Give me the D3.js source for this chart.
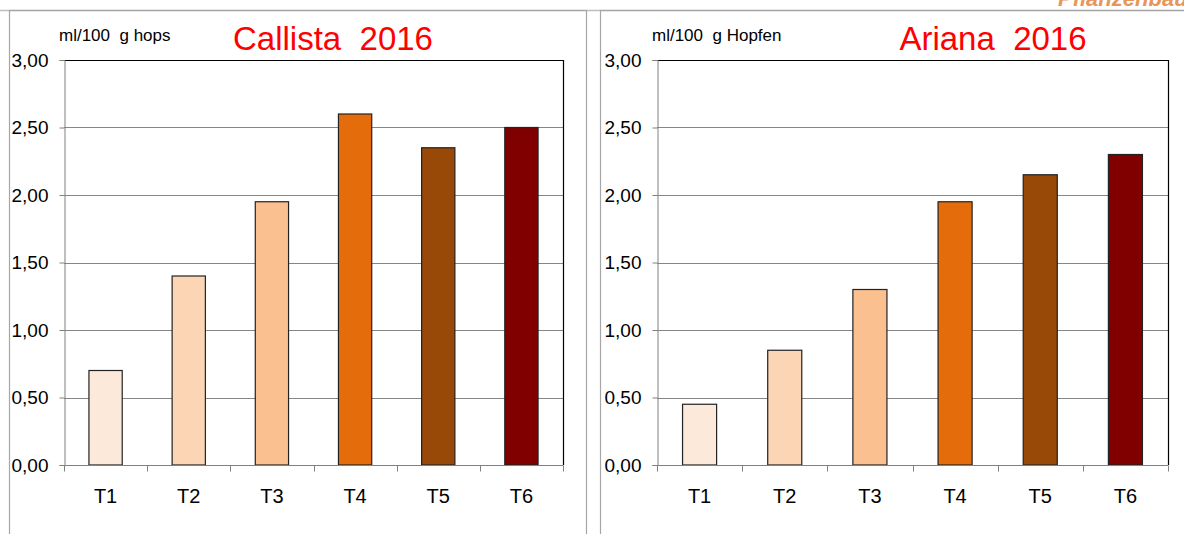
<!DOCTYPE html>
<html>
<head>
<meta charset="utf-8">
<script src="https://cdn.jsdelivr.net/npm/d3@7"></script>
<style>
body { margin: 0; background: #fff; }
svg text { font-family: "Liberation Sans", Arial, sans-serif; }
</style>
</head>
<body>
<div id="chart"></div>
<script>
var width = 1184,
    height = 534;

var categories = ['T1', 'T2', 'T3', 'T4', 'T5', 'T6'];
var callista = [0.70, 1.40, 1.95, 2.60, 2.35, 2.50];
var ariana = [0.45, 0.85, 1.30, 1.95, 2.15, 2.30];
var barColors = ['#fde9d9', '#fcd5b4', '#fac08f', '#e46c0a', '#984807', '#800000'];
var yTicks = [0, 0.5, 1, 1.5, 2, 2.5, 3];

var panels = [
    { title: 'Callista 2016', unit: 'ml/100  g hops', values: callista,
      box: [9, 586], plot: [64, 563], titleX: 333 },
    { title: 'Ariana 2016', unit: 'ml/100  g Hopfen', values: ariana,
      box: [600, 1200], plot: [657, 1168], titleX: 993 }
];

var svg = d3.select('#chart')
    .append('svg')
    .attr('width', width)
    .attr('height', height);

// cropped logo text at the top edge
svg.append('text')
    .attr('x', 1058)
    .attr('y', 6)
    .attr('fill', '#e8955a')
    .attr('font-size', 22)
    .attr('font-weight', 'bold')
    .attr('font-style', 'italic')
    .text('Pflanzenbau');

svg.append('line')
    .attr('x1', 0).attr('x2', width)
    .attr('y1', 10.5).attr('y2', 10.5)
    .attr('stroke', '#bdbdbd')
    .attr('stroke-width', 1.5);

var yScale = d3.scaleLinear().domain([0, 3]).range([465, 60]);
var fmt = d => d3.format('.2f')(d).replace('.', ',');

panels.forEach(p => {
    var g = svg.append('g');

    g.append('rect')
        .attr('x', p.box[0] + 0.5)
        .attr('y', 10.5)
        .attr('width', p.box[1] - p.box[0])
        .attr('height', 600)
        .attr('fill', 'none')
        .attr('stroke', '#a6a6a6')
        .attr('stroke-width', 1.2);

    var x = d3.scaleBand()
        .domain(categories)
        .range(p.plot)
        .paddingInner(0.6)
        .paddingOuter(0.3);

    // gridlines
    g.selectAll('.grid')
        .data(yTicks.slice(1, -1))
        .enter()
        .append('line')
        .attr('x1', p.plot[0])
        .attr('x2', p.plot[1])
        .attr('y1', d => Math.round(yScale(d)) + 0.5)
        .attr('y2', d => Math.round(yScale(d)) + 0.5)
        .attr('stroke', '#868686')
        .attr('stroke-width', 1);

    // plot frame top/right
    g.append('path')
        .attr('d', 'M' + p.plot[0] + ',' + (yScale(3) + 0.5) + 'H' + (p.plot[1] + 0.5) + 'V' + yScale(0))
        .attr('fill', 'none')
        .attr('stroke', '#000')
        .attr('stroke-width', 1.2);

    g.selectAll('.bar')
        .data(p.values)
        .enter()
        .append('rect')
        .attr('x', (d, i) => x(categories[i]))
        .attr('y', d => yScale(d))
        .attr('width', x.bandwidth())
        .attr('height', d => yScale(0) - yScale(d))
        .attr('fill', (d, i) => barColors[i])
        .attr('stroke', '#222')
        .attr('stroke-width', 1.2);

    // y axis
    var yAxis = d3.axisLeft(yScale)
        .tickValues(yTicks)
        .tickFormat(fmt)
        .tickSize(5)
        .tickPadding(11);
    var ya = g.append('g')
        .attr('transform', 'translate(' + (p.plot[0] + 0.5) + ',0)')
        .call(yAxis);
    ya.selectAll('line, path').attr('stroke', '#808080');
    ya.selectAll('text')
        .attr('font-size', 19)
        .attr('fill', '#000')
        .style('font-family', '"Liberation Sans", Arial, sans-serif');

    // x axis with ticks between categories
    var xLin = d3.scaleLinear().domain([0, categories.length]).range(p.plot);
    var xa = g.append('g')
        .attr('transform', 'translate(0,' + (yScale(0) + 0.5) + ')');
    xa.append('line')
        .attr('x1', p.plot[0]).attr('x2', p.plot[1])
        .attr('stroke', '#808080');
    xa.selectAll('.tk')
        .data(d3.range(categories.length + 1))
        .enter()
        .append('line')
        .attr('x1', d => Math.round(xLin(d)) + 0.5)
        .attr('x2', d => Math.round(xLin(d)) + 0.5)
        .attr('y1', 0).attr('y2', 6)
        .attr('stroke', '#808080');
    xa.selectAll('.lbl')
        .data(categories)
        .enter()
        .append('text')
        .attr('x', d => x(d) + x.bandwidth() / 2)
        .attr('y', 37)
        .attr('text-anchor', 'middle')
        .attr('font-size', 20)
        .text(d => d);

    g.append('text')
        .attr('x', p.plot[0] - 5)
        .attr('y', 41)
        .attr('font-size', 17)
        .style('white-space', 'pre')
        .text(p.unit);

    g.append('text')
        .attr('x', p.titleX)
        .attr('y', 50)
        .attr('text-anchor', 'middle')
        .attr('font-size', 33)
        .attr('fill', '#ff0000')
        .style('white-space', 'pre')
        .text(p.title.replace(' ', '  '));
});
</script>
</body>
</html>
